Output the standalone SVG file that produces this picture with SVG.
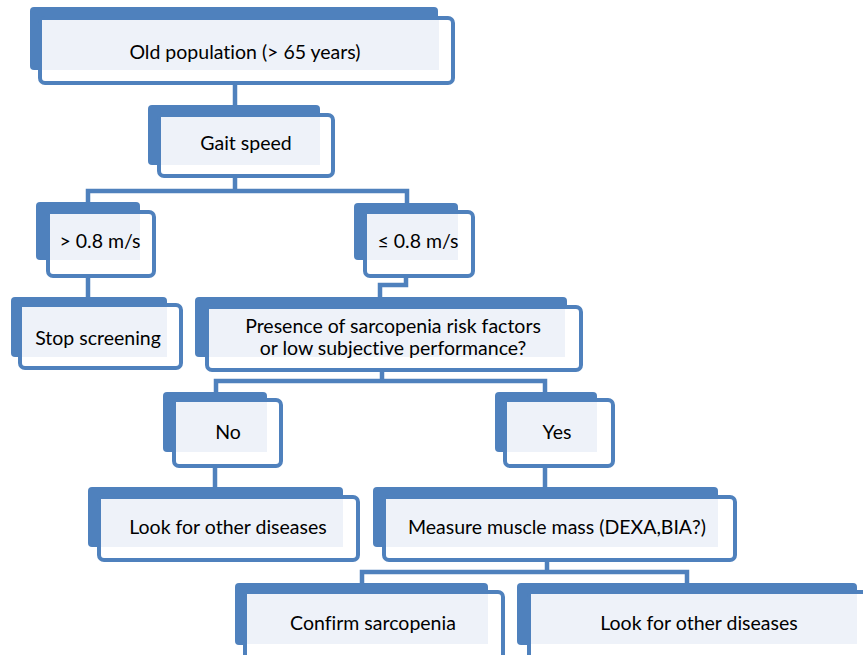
<svg xmlns="http://www.w3.org/2000/svg" width="863" height="655" viewBox="0 0 863 655">
<style>
.back{fill:#4F81BD}
.frame{fill:#FFFFFF;stroke:#4F81BD;stroke-width:4}
.light{fill:#EEF2F9}
.conn{fill:none;stroke:#4F81BD;stroke-width:4.5}
text{font-family:Lato,"Open Sans","Liberation Sans",sans-serif;font-size:19.5px;fill:#000;text-anchor:middle;font-variant-ligatures:none}
</style>
<rect width="863" height="655" fill="#FFFFFF"/>
<g id="connectors">
<path class="conn" d="M235,83 V105"/>
<path class="conn" d="M235,176 V191"/>
<path class="conn" d="M88,203 V191 H407 V203"/>
<path class="conn" d="M88,276 V297"/>
<path class="conn" d="M406,276 V285 H380 V297"/>
<path class="conn" d="M382,370 V381"/>
<path class="conn" d="M216,392 V381 H545 V392"/>
<path class="conn" d="M215,466 V487"/>
<path class="conn" d="M545,466 V487"/>
<path class="conn" d="M547,560 V572"/>
<path class="conn" d="M362,583 V572 H687 V583"/>
</g>
<g id="old">
<rect class="back" x="30" y="7" width="408" height="63" rx="4"/>
<rect class="frame" x="40" y="18" width="413" height="65" rx="5"/>
<rect class="light" x="42" y="20" width="397" height="50"/>
<text x="245" y="59">Old population (&gt; 65 years)</text>
</g>
<g id="gait">
<rect class="back" x="148" y="105" width="172" height="60" rx="4"/>
<rect class="frame" x="159" y="115" width="174" height="61" rx="5"/>
<rect class="light" x="161" y="117" width="159" height="48"/>
<text x="246" y="150">Gait speed</text>
</g>
<g id="fast">
<rect class="back" x="36" y="202" width="104" height="58" rx="4"/>
<rect class="frame" x="48" y="212" width="106" height="64" rx="5"/>
<rect class="light" x="50" y="214" width="90" height="46"/>
<text x="100" y="248">&gt; 0.8 m/s</text>
</g>
<g id="slow">
<rect class="back" x="354" y="203" width="104" height="57" rx="4"/>
<rect class="frame" x="365" y="212" width="108" height="64" rx="5"/>
<rect class="light" x="367" y="214" width="91" height="46"/>
<text x="418" y="248">≤ 0.8 m/s</text>
</g>
<g id="stop">
<rect class="back" x="11" y="297" width="156" height="60" rx="4"/>
<rect class="frame" x="20" y="305" width="161" height="63" rx="5"/>
<rect class="light" x="22" y="307" width="145" height="50"/>
<text x="98" y="345">Stop screening</text>
</g>
<g id="presence">
<rect class="back" x="195" y="297" width="372" height="60" rx="4"/>
<rect class="frame" x="207" y="307" width="374" height="63" rx="5"/>
<rect class="light" x="209" y="309" width="356" height="48"/>
<text x="393" y="333">Presence of sarcopenia risk factors</text>
<text x="393" y="355">or low subjective performance?</text>
</g>
<g id="no">
<rect class="back" x="163" y="392" width="104" height="60" rx="4"/>
<rect class="frame" x="174" y="400" width="107" height="66" rx="5"/>
<rect class="light" x="176" y="402" width="91" height="50"/>
<text x="228" y="439">No</text>
</g>
<g id="yes">
<rect class="back" x="495" y="392" width="102" height="60" rx="4"/>
<rect class="frame" x="505" y="400" width="108" height="66" rx="5"/>
<rect class="light" x="507" y="402" width="90" height="50"/>
<text x="557" y="439">Yes</text>
</g>
<g id="lookleft">
<rect class="back" x="88" y="487" width="255" height="60" rx="4"/>
<rect class="frame" x="99" y="497" width="259" height="63" rx="5"/>
<rect class="light" x="101" y="499" width="242" height="48"/>
<text x="228" y="534">Look for other diseases</text>
</g>
<g id="measure">
<rect class="back" x="373" y="487" width="345" height="60" rx="4"/>
<rect class="frame" x="384" y="497" width="351" height="63" rx="5"/>
<rect class="light" x="386" y="499" width="332" height="48"/>
<text x="557" y="534">Measure muscle mass (DEXA,BIA?)</text>
</g>
<g id="confirm">
<rect class="back" x="235" y="583" width="253" height="62" rx="4"/>
<rect class="frame" x="245" y="592" width="258" height="70" rx="5"/>
<rect class="light" x="247" y="594" width="241" height="50"/>
<text x="373" y="630">Confirm sarcopenia</text>
</g>
<g id="lookright">
<rect class="back" x="517" y="583" width="340" height="62" rx="4"/>
<rect class="frame" x="529" y="592" width="346" height="70" rx="5"/>
<rect class="light" x="531" y="594" width="326" height="50"/>
<text x="699" y="630">Look for other diseases</text>
</g>
</svg>
